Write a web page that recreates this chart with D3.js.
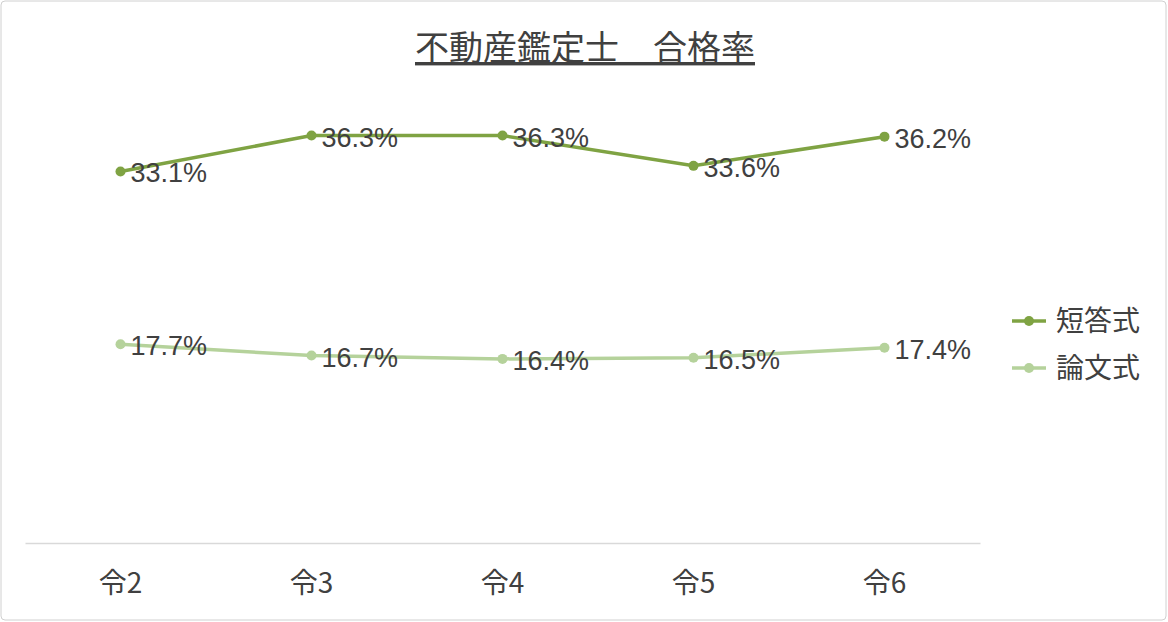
<!DOCTYPE html>
<html lang="ja">
<head>
<meta charset="utf-8">
<script src="https://d3js.org/d3.v7.min.js"></script>
<style>
body{margin:0;background:#fff;font-family:"Noto Sans CJK JP","Noto Sans",sans-serif;}
</style>
</head>
<body>
<div id="chart"></div>
<script>
var categories = ["令2","令3","令4","令5","令6"]
var seriesNames = ["短答式","論文式"]
var tanto = [33.1,36.3,36.3,33.6,36.2]
var ronbun = [17.7,16.7,16.4,16.5,17.4]
var colors = ["#7fa343","#b5d29b"]

var W = 1168, H = 622
var svg = d3.select("#chart").append("svg").attr("width",W).attr("height",H)
svg.append("rect").attr("x",1).attr("y",1).attr("width",W-3).attr("height",H-3)
    .attr("rx",4).attr("fill","#fff").attr("stroke","#d0d0d0")

svg.append("text").attr("x",585).attr("y",60).attr("text-anchor","middle")
    .attr("font-size",34).attr("fill","#404040").attr("text-decoration","underline")
    .text("不動産鑑定士\u3000合格率")

var x = d3.scaleBand().domain(categories).range([25,980])
var y = d3.scaleLinear().domain([0,40]).range([543,94])

var xAxis = svg.append("g").attr("transform","translate(0,543)")
    .call(d3.axisBottom(x).tickSize(0).tickPadding(30))
xAxis.select(".domain").attr("stroke","#d9d9d9").attr("stroke-width",1.5)
xAxis.selectAll("text").attr("font-size",28).attr("fill","#404040")
    .attr("font-family","'Noto Sans CJK JP',sans-serif")

var data = [tanto, ronbun]
data.forEach(function(vals,si){
    var pts = vals.map(function(v,i){return [x(categories[i])+x.bandwidth()/2, y(v)]})
    svg.append("path").attr("d",d3.line()(pts)).attr("fill","none")
        .attr("stroke",colors[si]).attr("stroke-width",3.5)
    svg.selectAll(".p"+si).data(pts).enter().append("circle")
        .attr("cx",function(d){return d[0]}).attr("cy",function(d){return d[1]})
        .attr("r",5).attr("fill",colors[si])
    svg.selectAll(".l"+si).data(vals).enter().append("text")
        .attr("x",function(d,i){return pts[i][0]+10})
        .attr("y",function(d,i){return pts[i][1]+11})
        .attr("font-size",27).attr("fill","#404040")
        .attr("font-family","'Liberation Sans',Arial,sans-serif")
        .text(function(d){return d.toFixed(1)+"%"})
})

seriesNames.forEach(function(n,i){
    var ly = 321 + i*47
    svg.append("line").attr("x1",1012).attr("x2",1046).attr("y1",ly).attr("y2",ly)
        .attr("stroke",colors[i]).attr("stroke-width",3.5)
    svg.append("circle").attr("cx",1029).attr("cy",ly).attr("r",5).attr("fill",colors[i])
    svg.append("text").attr("x",1056).attr("y",ly+10).attr("font-size",28)
        .attr("fill","#404040").text(n)
})
</script>
</body>
</html>
